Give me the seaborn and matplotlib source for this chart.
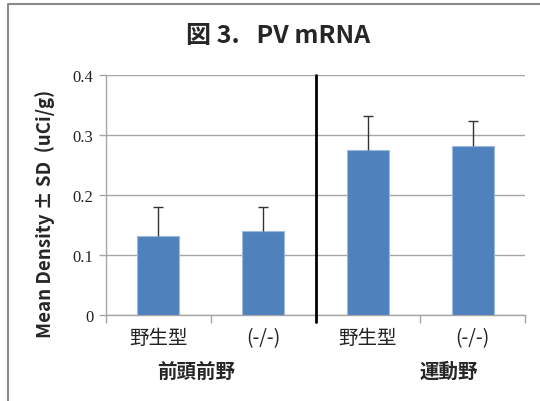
import numpy as np
import pandas as pd
import matplotlib.pyplot as plt
import seaborn as sns
from matplotlib.lines import Line2D

# values
categories = ["野生型", "(-/-)", "野生型", "(-/-)"]
regions = ["前頭前野", "運動野"]
means = [0.132, 0.140, 0.275, 0.281]
sds = [0.048, 0.040, 0.056, 0.043]
yticks = [0, 0.1, 0.2, 0.3, 0.4]
ytick_labels = ["0", "0.1", "0.2", "0.3", "0.4"]

sns.set_style('white')
plt.rcParams['font.family'] = ['Noto Sans CJK JP', 'DejaVu Sans']

df = pd.DataFrame({'bar': [f"{i}" for i in range(len(means))], 'mean': means})

fig = plt.figure(figsize=(5.4, 4.02), dpi=100)
ax = fig.add_axes([106 / 540, 1 - 316 / 402, 419 / 540, 240 / 402])

sns.barplot(x='bar', y='mean', data=df, color='#4F81BD', width=0.4,
            edgecolor='#9DB9DE', linewidth=0.8, saturation=1, ax=ax, zorder=3)
x = np.arange(len(means))
tops = np.array(means) + np.array(sds)
# upper error bars only (stem + top cap)
ax.errorbar(x, means, yerr=[np.zeros(len(sds)), sds], fmt='none', ecolor='#333333',
            elinewidth=1, capsize=0, zorder=4)
ax.plot(x, tops, linestyle='none', marker='_', markersize=7, markeredgewidth=1,
        color='#333333', zorder=4)

# grid & axes
ax.set_ylim(0, 0.4)
ax.set_xlim(-0.5, 3.5)
ax.set_yticks(yticks)
ax.set_yticklabels(ytick_labels, family='Liberation Serif', fontsize=12, color='#222222')
ax.yaxis.grid(True, color='#a6a6a6', linewidth=1, zorder=0)
ax.set_axisbelow(True)
ax.tick_params(axis='y', length=5, width=1, color='#a6a6a6', pad=4, left=True)

ax.set_xticks([-0.5, 0.5, 1.5, 2.5, 3.5])
ax.set_xticklabels([])
ax.set_xticks(x, minor=True)
ax.set_xticklabels(categories, minor=True, fontsize=14, color='#222222')
ax.tick_params(axis='x', which='major', length=6, width=1, color='#a6a6a6', bottom=True)
ax.tick_params(axis='x', which='minor', length=0, pad=9)
ax.set_xlabel('')
ax.set_ylabel('')

for s in ['top', 'right']:
    ax.spines[s].set_visible(False)
for s in ['left', 'bottom']:
    ax.spines[s].set_color('#a6a6a6')
    ax.spines[s].set_linewidth(1)

# separator between regions
ax.plot([1.5, 1.5], [0.4, -0.011], color='black', linewidth=2, clip_on=False, zorder=5)

# region labels
fig.text(196 / 540, 1 - 372 / 402, regions[0], ha='center', va='center',
         fontsize=14, fontweight='bold')
fig.text(449 / 540, 1 - 372 / 402, regions[1], ha='center', va='center',
         fontsize=14, fontweight='bold')

fig.text(278 / 540, 1 - 36 / 402, "図 3.   PV mRNA", ha='center', va='center',
         fontsize=18, fontweight='bold')
fig.text(45 / 540, 1 - 214 / 402, "Mean Density ± SD  (uCi/g)", ha='center', va='center',
         rotation=90, fontsize=13.5, fontweight='bold')

# outer frame (left and top edges visible)
fig.add_artist(Line2D([8 / 540, 8 / 540, 1], [0, 1 - 5 / 402, 1 - 5 / 402],
                      transform=fig.transFigure, color='#8c8c8c', linewidth=1.5))

fig.savefig('out.png', dpi=100)
